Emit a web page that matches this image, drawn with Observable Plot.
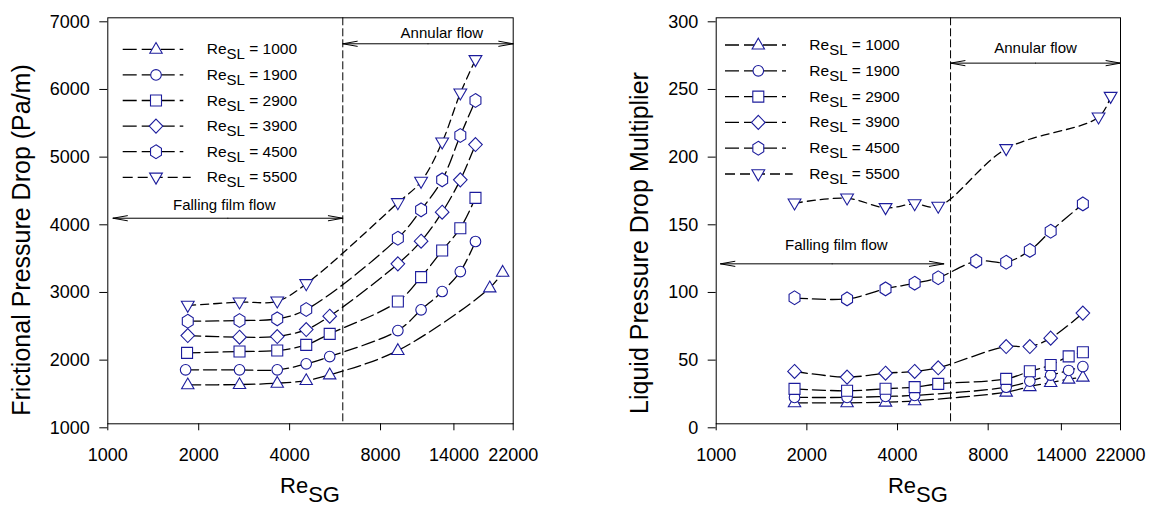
<!DOCTYPE html>
<html><head><meta charset="utf-8">
<script src="https://cdn.jsdelivr.net/npm/d3@7"></script>
<script src="https://cdn.jsdelivr.net/npm/@observablehq/plot@0.6"></script>
<style>
html,body{margin:0;padding:0;background:#fff;}
#chart{position:relative;width:1156px;height:508px;overflow:hidden;background:#fff;}
#chart svg{position:absolute;top:0;}
</style></head><body><div id="chart"></div>
<script>
// ---------------- data ----------------
const seriesLabels = ["1000", "1900", "2900", "3900", "4500", "5500"];
const xTicks = [1000, 2000, 4000, 8000, 14000, 22000];
const leftYTicks = [1000, 2000, 3000, 4000, 5000, 6000, 7000];
const rightYTicks = [0, 50, 100, 150, 200, 250, 300];
const transitionReSG = [6000];

// Left panel: Frictional pressure drop (Pa/m)
const fpX1000 = [1840, 2730, 3640, 4540, 5430, 9130, 18400, 20300];
const fpY1000 = [1576, 1580, 1600, 1639, 1723, 2083, 3009, 3240];
const fpX1900 = [1810, 2730, 3640, 4540, 5430, 9130, 10900, 12800, 14700, 16500];
const fpY1900 = [1797, 1797, 1797, 1886, 1994, 2378, 2684, 2955, 3250, 3694];
const fpX2900 = [1830, 2730, 3640, 4540, 5430, 9130, 10900, 12800, 14700, 16500];
const fpY2900 = [2048, 2068, 2083, 2166, 2329, 2807, 3167, 3561, 3891, 4339];
const fpX3900 = [1840, 2730, 3640, 4540, 5430, 9130, 10900, 12800, 14700, 16500];
const fpY3900 = [2304, 2280, 2290, 2393, 2590, 3364, 3699, 4127, 4605, 5127];
const fpX4500 = [1840, 2730, 3640, 4540, 9130, 10900, 12800, 14700, 16500];
const fpY4500 = [2516, 2526, 2551, 2689, 3743, 4162, 4605, 5260, 5778];
const fpX5500 = [1840, 2730, 3640, 4540, 9130, 10900, 12800, 14700, 16500];
const fpY5500 = [2748, 2797, 2812, 3068, 4265, 4581, 5162, 5886, 6379];

// Right panel: Liquid pressure drop multiplier
const mX1000 = [1820, 2720, 3650, 4560, 9180, 11000, 12900, 14800, 16500];
const mY1000 = [15.5, 15.5, 16, 17, 23.4, 27.5, 30.5, 33, 34.5];
const mX1900 = [1820, 2720, 3650, 4560, 9180, 11000, 12900, 14800, 16500];
const mY1900 = [19.5, 19.5, 20.2, 21, 27, 31.5, 36, 39.4, 42.3];
const mX2900 = [1820, 2720, 3650, 4560, 5460, 9180, 11000, 12900, 14800, 16500];
const mY2900 = [25.8, 24.4, 25.9, 27.1, 29.5, 33.2, 38.8, 43.4, 49.8, 52.9];
const mX3900 = [1820, 2720, 3650, 4560, 5460, 9180, 11000, 12900, 16500];
const mY3900 = [38.7, 34.5, 37.4, 38.7, 41.4, 57.1, 57.1, 63.3, 81.8];
const mX4500 = [1820, 2720, 3650, 4560, 5460, 7300, 9180, 11000, 12900, 16500];
const mY4500 = [93.1, 92.3, 99.7, 103.9, 107.9, 120.2, 119.4, 128.1, 142.3, 162.5];
const mX5500 = [1820, 2720, 3650, 4560, 5460, 9180, 18600, 20400];
const mY5500 = [163, 166.7, 159.6, 162.5, 160.6, 203.2, 226.6, 241.8];

// Flow-regime annotations (data coordinates)
const leftRegimes = [
  {label: "Falling film flow", from: 1040, to: 6000, y: 4038, tx: 2430, ty: 4226},
  {label: "Annular flow", from: 6000, to: 22000, y: 6616, tx: 12770, ty: 6778}
];
const rightRegimes = [
  {label: "Falling film flow", from: 1033, to: 5700, y: 118.2, tx: 2505, ty: 131.7},
  {label: "Annular flow", from: 6000, to: 22000, y: 266.5, tx: 11490, ty: 277.8}
];

// ---------------- styles ----------------
const FONT = "'Liberation Sans', Arial, Helvetica, sans-serif";
const MARK = "#1c1c9c";
function polySymbol(pts) {
  return {draw(ctx) { ctx.moveTo(pts[0][0], pts[0][1]); for (let i = 1; i < pts.length; i++) ctx.lineTo(pts[i][0], pts[i][1]); ctx.closePath(); }};
}
const symTriUp = polySymbol([[0, -6.8], [6.2, 4], [-6.2, 4]]);
const symCircle = {draw(ctx) { ctx.moveTo(5.3, 0); ctx.arc(0, 0, 5.3, 0, 2 * Math.PI); ctx.closePath(); }};
const symSquare = polySymbol([[-5.5, -5.5], [5.5, -5.5], [5.5, 5.5], [-5.5, 5.5]]);
const symDiamond = polySymbol([[0, -7], [6.8, 0], [0, 7], [-6.8, 0]]);
const symHexagon = polySymbol(d3.range(6).map(i => { const a = -Math.PI / 2 + i * Math.PI / 3; return [6.3 * Math.cos(a), 6.9 * Math.sin(a)]; }));
const symTriDown = polySymbol([[0, 6.8], [6.4, -4.2], [-6.4, -4.2]]);
const symbols = [symTriUp, symCircle, symSquare, symDiamond, symHexagon, symTriDown];
const dashes = ["13,5", "13,5", "13,5", "13,5", "13,5", "8,5"];
const legendDashes = ["14,5", "14,5", "14,5", "14,5", "14,5", "10,5"];

const toRows = (xs, ys) => xs.map((x, i) => ({x, y: ys[i]}));
const fmt = d3.format("d");

function makePanel(cfg) {
  const W = 578, H = 508;
  const marks = [];
  marks.push(Plot.frame({stroke: "black", strokeWidth: 1}));
  marks.push(Plot.ruleX(transitionReSG, {stroke: "black", strokeWidth: 1, strokeDasharray: "8,3"}));
  cfg.series.forEach((s, i) => {
    marks.push(Plot.line(toRows(s[0], s[1]), {x: "x", y: "y", curve: "catmull-rom", stroke: "black", strokeWidth: 1.3, strokeDasharray: dashes[i]}));
  });
  cfg.series.forEach((s, i) => {
    marks.push(Plot.dot(toRows(s[0], s[1]), {x: "x", y: "y", symbol: symbols[i], r: 5, fill: "white", stroke: MARK, strokeWidth: 1.1}));
  });
  const mid = d => Math.sqrt(d.from * d.to);
  marks.push(Plot.arrow(cfg.regimes, {x1: mid, x2: "from", y1: "y", y2: "y", headLength: 22, headAngle: 20, stroke: "black", strokeWidth: 1}));
  marks.push(Plot.arrow(cfg.regimes, {x1: mid, x2: "to", y1: "y", y2: "y", headLength: 22, headAngle: 20, stroke: "black", strokeWidth: 1}));
  marks.push(Plot.text(cfg.regimes, {x: "tx", y: "ty", text: "label", fontSize: 15, fill: "black"}));
  marks.push(Plot.axisX({ticks: xTicks, tickSize: 7, tickPadding: 17, tickFormat: fmt, fontSize: 18, label: null}));
  marks.push(Plot.axisY({ticks: cfg.yTicks, tickSize: 8, tickPadding: 10, tickFormat: fmt, fontSize: 18, label: null, dy: 4}));

  const svg = Plot.plot({
    width: W, height: H,
    marginLeft: cfg.ml, marginRight: cfg.mr, marginTop: 17.3, marginBottom: 84.7,
    x: {type: "log", domain: [1000, 22000], ticks: xTicks, tickFormat: fmt},
    y: {domain: cfg.yDomain, ticks: cfg.yTicks, tickFormat: fmt},
    style: {fontFamily: FONT, fontSize: "18px", color: "black", background: "white", overflow: "visible"},
    marks
  });
  svg.style.left = cfg.left + "px";
  const sel = d3.select(svg);
  const fx0 = cfg.ml, fx1 = W - cfg.mr, fy0 = 17.3;

  // legend
  const g = sel.append("g").attr("font-family", FONT).attr("fill", "black").attr("text-anchor", "start");
  seriesLabels.forEach((lab, i) => {
    const ry = fy0 + cfg.leg.row0 + i * cfg.leg.step;
    const x0 = fx0 + cfg.leg.lx0, x1 = fx0 + (i === 5 ? cfg.leg.lx1b : cfg.leg.lx1), mx = fx0 + cfg.leg.mx;
    g.append("line").attr("x1", x0).attr("x2", x1).attr("y1", ry).attr("y2", ry)
      .attr("stroke", "black").attr("stroke-width", 1.3).attr("stroke-dasharray", legendDashes[i]);
    const p = d3.path(); symbols[i].draw(p);
    g.append("path").attr("d", p.toString()).attr("transform", `translate(${mx},${ry})`)
      .attr("fill", "white").attr("stroke", MARK).attr("stroke-width", 1.1);
    const t = g.append("text").attr("x", fx0 + cfg.leg.tx).attr("y", ry + 5).attr("text-anchor", "start")
      .attr("font-size", 15.5).style("white-space", "pre");
    t.append("tspan").text("Re");
    t.append("tspan").attr("dy", 5).attr("font-size", 15).text("SL");
    t.append("tspan").attr("dy", -5).text(" = " + lab);
  });

  // x axis title
  const xl = sel.append("text").attr("x", (fx0 + fx1) / 2).attr("y", 493).attr("text-anchor", "middle")
    .attr("font-family", FONT).attr("font-size", 22).attr("fill", "black");
  xl.append("tspan").text("Re");
  xl.append("tspan").attr("dy", 9).text("SG");

  // y axis title
  sel.append("text").attr("transform", `translate(${cfg.ylx},${cfg.yly}) rotate(-90)`).attr("text-anchor", "middle")
    .attr("font-family", FONT).attr("font-size", 25).attr("fill", "black").text(cfg.yTitle);
  return svg;
}

const chart = document.getElementById("chart");
chart.appendChild(makePanel({
  left: 0, ml: 107.3, mr: 578 - 512.7,
  yDomain: [1000, 7000], yTicks: leftYTicks,
  series: [[fpX1000, fpY1000], [fpX1900, fpY1900], [fpX2900, fpY2900], [fpX3900, fpY3900], [fpX4500, fpY4500], [fpX5500, fpY5500]],
  regimes: leftRegimes,
  leg: {row0: 32, step: 25.6, lx0: 15.4, lx1: 76, lx1b: 83.4, mx: 48.7, tx: 99.4},
  yTitle: "Frictional Pressure Drop (Pa/m)", ylx: 29.5, yly: 240
}));
chart.appendChild(makePanel({
  left: 578, ml: 137.7, mr: 36,
  yDomain: [0, 300], yTicks: rightYTicks,
  series: [[mX1000, mY1000], [mX1900, mY1900], [mX2900, mY2900], [mX3900, mY3900], [mX4500, mY4500], [mX5500, mY5500]],
  regimes: rightRegimes,
  leg: {row0: 27.7, step: 25.8, lx0: 9.3, lx1: 70.3, lx1b: 77, mx: 42.6, tx: 93.6},
  yTitle: "Liquid Pressure Drop Multiplier", ylx: 70, yly: 243
}));
</script></body></html>
